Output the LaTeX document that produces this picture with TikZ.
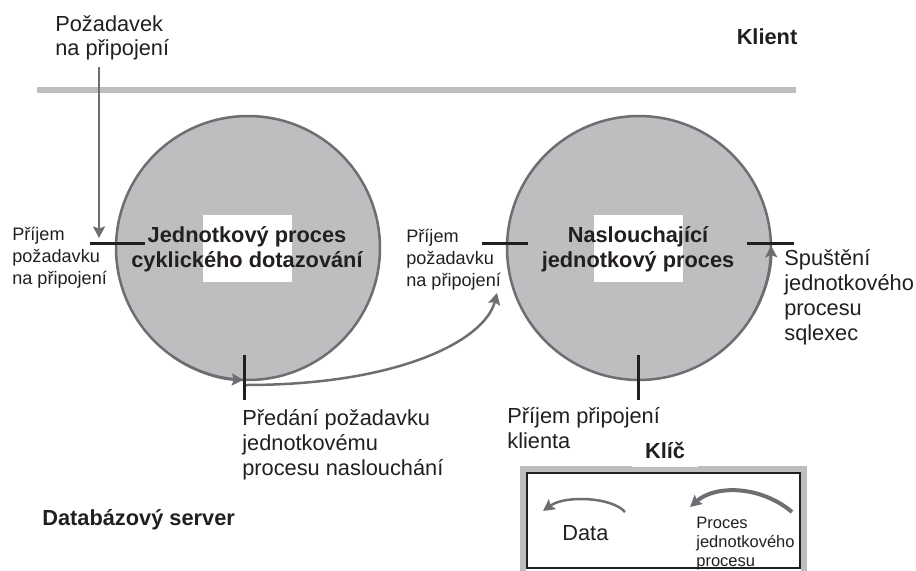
\documentclass[tikz,border=0pt]{standalone}
\usepackage{fontspec}
\setmainfont{Liberation Sans}
\usetikzlibrary{arrows.meta}
\definecolor{procfill}{HTML}{BCBEC0}
\definecolor{procline}{HTML}{6D6E71}
\definecolor{ink}{HTML}{231F20}
\begin{document}
\begin{tikzpicture}[x=0.02cm, y=-0.02cm,
        proc/.style = {circle, draw=procline, fill=procfill,
            line width=0.05cm, minimum size=5.28cm, inner sep=0pt},
        heading/.style = {font=\fontsize{12.4}{14.2}\selectfont\bfseries,
            align=center, text=ink, anchor=base, inner sep=0pt},
        txt/.style = {font=\fontsize{12.4}{14.2}\selectfont,
            align=left, text=ink, anchor=base west, inner sep=0pt},
        smalltxt/.style = {font=\fontsize{10.3}{12.5}\selectfont,
            align=left, text=ink, anchor=base west, inner sep=0pt},
        tinytxt/.style = {font=\fontsize{9.4}{10.8}\selectfont,
            align=left, text=ink, anchor=base west, inner sep=0pt},
        tickline/.style = {draw=ink, line width=0.06cm},
        flow/.style = {draw=procline, line width=0.045cm,
            -{Stealth[length=0.23cm, width=0.24cm, inset=0.04cm]}},
    ]
    \useasboundingbox (0,0) rectangle (916,571);

    % Client side
    \draw[procfill, line width=0.14cm] (37,90) -- (796,90);
    \node[heading] (client) at (767,45) {Klient};
    \node[txt] (request) at (55,56) {Požadavek\\na připojení};

    % Processes
    \node[proc] (poll) at (248,248) {};
    \node[proc] (listen) at (639,248) {};
    \draw[flow, line width=0.05cm] ([shift={(125:132)}]poll.center)
        arc[start angle=125, end angle=92, radius=132];
    \draw[flow, line width=0.05cm] ([shift={(30:132)}]listen.center)
        arc[start angle=30, end angle=-1, radius=132];

    \fill[white] (203,215) rectangle (292,282);
    \fill[white] (594,215) rectangle (683,282);
    \node[heading] (pollname) at (247,267) {Jednotkový proces\\cyklického dotazování};
    \node[heading] (listenname) at (638,267) {Naslouchající\\jednotkový proces};

    % Ticks
    \draw[tickline] (90,243) -- (145,243);
    \draw[tickline] (244,355) -- (244,400);
    \draw[tickline] (482,243) -- (528,243);
    \draw[tickline] (747,243) -- (794,243);
    \draw[tickline] (638,355) -- (638,400);

    % Connections
    \coordinate (reqfoot) at (99,67);
    \coordinate (pollin) at (99,238);
    \coordinate (handoff) at (246,385);
    \coordinate (listenin) at (497,293);
    \draw[flow] (reqfoot) -- (pollin);
    \draw[flow, line width=0.05cm] (handoff) .. controls (400,385) and (485,340) .. (listenin);

    % Tick labels
    \node[smalltxt] (pollrecv) at (12,284) {Příjem\\požadavku\\na připojení};
    \node[smalltxt] (listenrecv) at (406,286) {Příjem\\požadavku\\na připojení};
    \node[txt] (handofftxt) at (242,475) {Předání požadavku\\jednotkovému\\procesu naslouchání};
    \node[txt] (spawn) at (784,340) {Spuštění\\jednotkového\\procesu\\sqlexec};
    \node[txt] (accept) at (507,448) {Příjem připojení\\klienta};

    % Server side
    \node[txt, font=\fontsize{12.4}{14.2}\selectfont\bfseries] (server) at (42,525) {Databázový server};

    % Key
    \draw[procfill, line width=0.13cm] (523,571) -- (523,469) -- (804,469) -- (804,571);
    \draw[ink, line width=0.03cm] (527,473) rectangle (800,568);
    \node[fill=white, minimum width=1.32cm, minimum height=0.64cm, anchor=south,
        font=\fontsize{12.4}{14.2}\selectfont\bfseries, text=ink] (keytitle) at (665,467) {Klíč};
    \draw[flow, line width=0.05cm] (625,512) .. controls (612,497) and (565,495) .. (543,511);
    \draw[flow, line width=0.08cm] (792,512) .. controls (760,485) and (715,485) .. (690,507);
    \node[txt] (keydata) at (562,540) {Data};
    \node[tinytxt] (keyproc) at (696,566) {Proces\\jednotkového\\procesu};
\end{tikzpicture}
\end{document}
